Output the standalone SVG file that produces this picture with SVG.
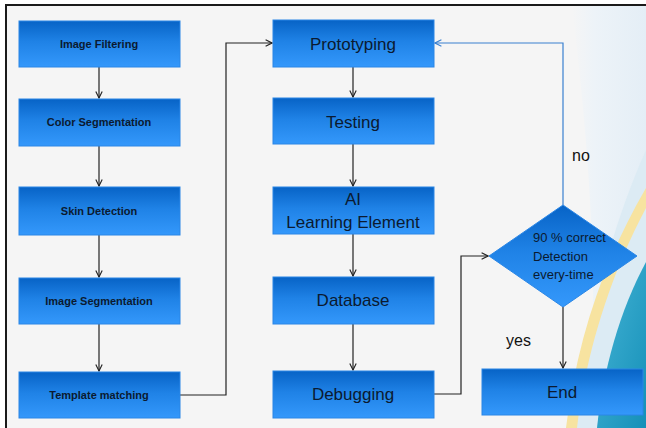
<svg xmlns="http://www.w3.org/2000/svg" width="646" height="428" viewBox="0 0 646 428">
<defs>
<linearGradient id="boxg" x1="0" y1="0" x2="0" y2="1">
<stop offset="0" stop-color="#0763c6"/>
<stop offset="0.45" stop-color="#1f82e6"/>
<stop offset="1" stop-color="#3498fb"/>
</linearGradient>
<linearGradient id="teal" x1="0" y1="0" x2="1" y2="1">
<stop offset="0" stop-color="#46b4d6"/>
<stop offset="1" stop-color="#1590b8"/>
</linearGradient>
<linearGradient id="sky" x1="0" y1="0" x2="1" y2="0">
<stop offset="0" stop-color="#f5f5f5"/>
<stop offset="0.3" stop-color="#edf3f8"/>
<stop offset="1" stop-color="#e4eef6"/>
</linearGradient>
<marker id="ah" viewBox="0 0 10 10" refX="9" refY="5" markerWidth="8" markerHeight="8" markerUnits="userSpaceOnUse" orient="auto">
<path d="M1,1 L9,5 L1,9" fill="none" stroke="#222" stroke-width="1.4"/>
</marker>
<marker id="ahb" viewBox="0 0 10 10" refX="9" refY="5" markerWidth="8" markerHeight="8" markerUnits="userSpaceOnUse" orient="auto">
<path d="M1,1 L9,5 L1,9" fill="none" stroke="#3a80d0" stroke-width="1.4"/>
</marker>
</defs>
<style>
.box{fill:url(#boxg);stroke:#2a86e6;stroke-width:1}
.sm{font-family:"Liberation Sans",Arial,sans-serif;font-size:11px;font-weight:bold;fill:#0b1a30;text-anchor:middle}
.lg{font-family:"Liberation Sans",Arial,sans-serif;font-size:17px;fill:#0b1a30;text-anchor:middle}
.dt{font-family:"Liberation Sans",Arial,sans-serif;font-size:13px;fill:#0b1a30}
.lbl{font-family:"Liberation Sans",Arial,sans-serif;font-size:16px;fill:#111}
.con{fill:none;stroke:#222;stroke-width:1.2}
.conb{fill:none;stroke:#3a80d0;stroke-width:1.2}
</style>
<!-- background -->
<rect x="0" y="0" width="646" height="428" fill="#ffffff"/>
<rect x="6" y="5" width="640" height="423" fill="#f5f5f5"/>
<path d="M572,5 C585,120 600,250 590,428 L646,428 L646,5 Z" fill="url(#sky)"/>
<path d="M646,150 C610,230 585,330 575,428 L646,428 Z" fill="#dcebf4"/>
<path d="M646,188 C603,262 577,340 566,428 L577,428 C587,345 614,268 646,208 Z" fill="#f7e3a0"/>
<path d="M646,262 C620,310 603,370 597,428 L646,428 Z" fill="url(#teal)"/>
<path d="M5,5 L646,5 M6,5 L6,428" fill="none" stroke="#1a1a1a" stroke-width="2"/>
<!-- connectors -->
<g id="connectors">
<path class="con" d="M99,67 V98" marker-end="url(#ah)"/>
<path class="con" d="M99,146 V186" marker-end="url(#ah)"/>
<path class="con" d="M99,235 V277" marker-end="url(#ah)"/>
<path class="con" d="M99,324 V371" marker-end="url(#ah)"/>
<path class="con" d="M180,395 H226 V43 H272" marker-end="url(#ah)"/>
<path class="con" d="M353,67 V97" marker-end="url(#ah)"/>
<path class="con" d="M353,144 V186" marker-end="url(#ah)"/>
<path class="con" d="M353,234 V276" marker-end="url(#ah)"/>
<path class="con" d="M353,324 V370" marker-end="url(#ah)"/>
<path class="con" d="M434,394 H461 V256 H488" marker-end="url(#ah)"/>
<path class="conb" d="M563,205 V43 H435" marker-end="url(#ahb)"/>
<path class="con" d="M563,307 V368" marker-end="url(#ah)"/>
</g>
<!-- left column -->
<g id="image-filtering"><rect class="box" x="19" y="21" width="161" height="46"/><text class="sm" x="99" y="47.5">Image Filtering</text></g>
<g id="color-segmentation"><rect class="box" x="19" y="99" width="161" height="47"/><text class="sm" x="99" y="125.5">Color Segmentation</text></g>
<g id="skin-detection"><rect class="box" x="19" y="187" width="161" height="48"/><text class="sm" x="99" y="214.5">Skin Detection</text></g>
<g id="image-segmentation"><rect class="box" x="19" y="278" width="161" height="46"/><text class="sm" x="99" y="304.5">Image Segmentation</text></g>
<g id="template-matching"><rect class="box" x="19" y="372" width="161" height="46"/><text class="sm" x="99" y="398.5">Template matching</text></g>
<!-- middle column -->
<g id="prototyping"><rect class="box" x="273" y="20" width="161" height="47"/><text class="lg" x="353" y="49.5">Prototyping</text></g>
<g id="testing"><rect class="box" x="273" y="98" width="161" height="46"/><text class="lg" x="353" y="127.5">Testing</text></g>
<g id="ai-learning"><rect class="box" x="273" y="187" width="161" height="47"/><text class="lg" x="353" y="205">AI</text><text class="lg" x="353" y="228">Learning Element</text></g>
<g id="database"><rect class="box" x="273" y="277" width="161" height="47"/><text class="lg" x="353" y="306">Database</text></g>
<g id="debugging"><rect class="box" x="273" y="371" width="161" height="47"/><text class="lg" x="353" y="400">Debugging</text></g>
<!-- decision -->
<g id="decision"><path d="M563,205 L637,256 L563,307 L489,256 Z" fill="url(#boxg)" stroke="#2a86e6" stroke-width="1"/>
<text class="dt" x="533" y="242">90 % correct</text><text class="dt" x="533" y="261">Detection</text><text class="dt" x="533" y="279">every-time</text></g>
<g id="end"><rect class="box" x="482" y="369" width="161" height="46"/><text class="lg" x="562" y="398">End</text></g>
<text class="lbl" x="572" y="161">no</text>
<text class="lbl" x="506" y="346">yes</text>
</svg>
